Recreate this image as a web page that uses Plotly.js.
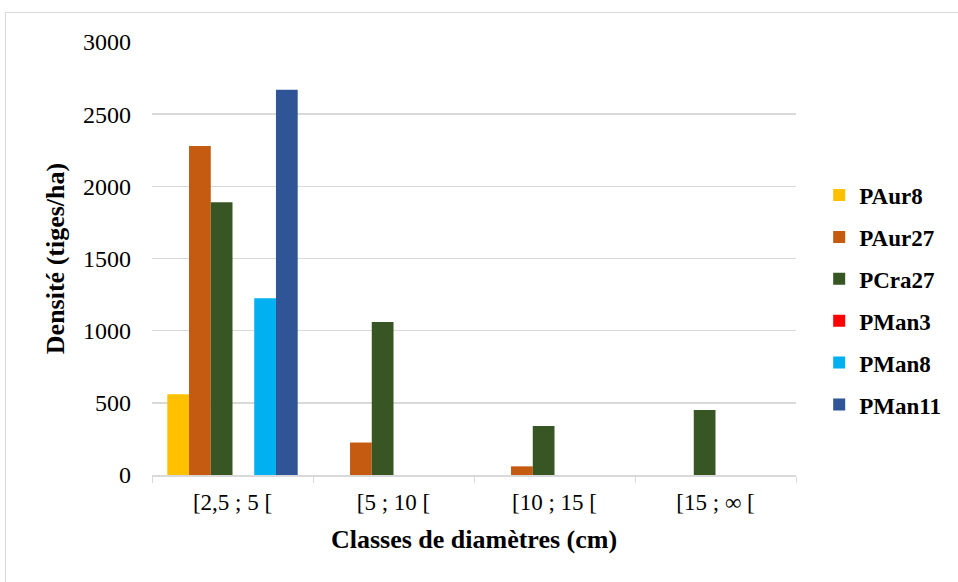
<!DOCTYPE html>
<html>
<head>
<meta charset="utf-8">
<script src="https://cdn.plot.ly/plotly-3.0.1.min.js"></script>
<style>
html,body{margin:0;padding:0;background:#fff;overflow:hidden;}
#frame{position:absolute;left:5px;top:12px;width:1000px;height:620px;border:1px solid #d9d9d9;box-sizing:border-box;}
#chart{position:absolute;left:0;top:0;width:958px;height:582px;}
</style>
</head>
<body>
<div id="frame"></div>
<div id="chart"></div>
<script>
const categories = ["[2,5 ; 5 [", "[5 ; 10 [", "[10 ; 15 [", "[15 ; \u221e ["];
const seriesNames = ["PAur8", "PAur27", "PCra27", "PMan3", "PMan8", "PMan11"];
const PAur8 = [560, 0, 0, 0];
const PAur27 = [2280, 225, 60, 0];
const PCra27 = [1890, 1060, 340, 450];
const PMan3 = [0, 0, 0, 0];
const PMan8 = [1225, 0, 0, 0];
const PMan11 = [2670, 0, 0, 0];
const yTicks = [0, 500, 1000, 1500, 2000, 2500, 3000];

const values = [PAur8, PAur27, PCra27, PMan3, PMan8, PMan11];
const colors = ["#FFC000", "#C55A11", "#375623", "#FF0000", "#00B0F0", "#2F5597"];

const traces = seriesNames.map((n, i) => ({
  type: "bar",
  name: n,
  x: categories,
  y: values[i],
  legendgroup: n,
  marker: {color: colors[i], line: {width: 0}},
  hoverinfo: "x+y+name"
}));

const font = "'Liberation Serif', 'Times New Roman', serif";
const layout = {
  width: 958, height: 582,
  margin: {l: 152, r: 160, t: 42, b: 107},
  paper_bgcolor: "rgba(0,0,0,0)",
  plot_bgcolor: "rgba(0,0,0,0)",
  font: {family: font, color: "#000", size: 23},
  barmode: "group",
  bargap: 0.19,
  bargroupgap: 0,
  showlegend: true,
  legend: {
    x: 1.036, y: 0.404, xanchor: "left", yanchor: "middle",
    font: {family: font, size: 23, color: "#000", weight: "bold"},
    tracegroupgap: 9, traceorder: "grouped",
    itemwidth: 30
  },
  xaxis: {
    type: "category",
    tickson: "boundaries",
    ticks: "outside", ticklen: 6, tickcolor: "#d9d9d9",
    showgrid: false,
    showline: true, linecolor: "#d9d9d9", linewidth: 1.5,
    ticklabelstandoff: 6,
    tickfont: {family: font, size: 23, color: "#000"},
    title: {text: "Classes de diamètres (cm)", font: {family: font, size: 26, color: "#000", weight: "bold"}, standoff: 15}
  },
  yaxis: {
    range: [0, 3000],
    tickvals: yTicks,
    ticktext: yTicks.map(String),
    showgrid: true, gridcolor: "#d9d9d9", gridwidth: 1.5,
    zeroline: false, showline: false,
    ticks: "", ticklabelstandoff: 20,
    tickfont: {family: font, size: 24, color: "#000"},
    title: {text: "Densité (tiges/ha)", font: {family: font, size: 26, color: "#000", weight: "bold"}, standoff: 10}
  }
};

Plotly.newPlot("chart", traces, layout, {displayModeBar: false, staticPlot: true});
</script>
</body>
</html>
